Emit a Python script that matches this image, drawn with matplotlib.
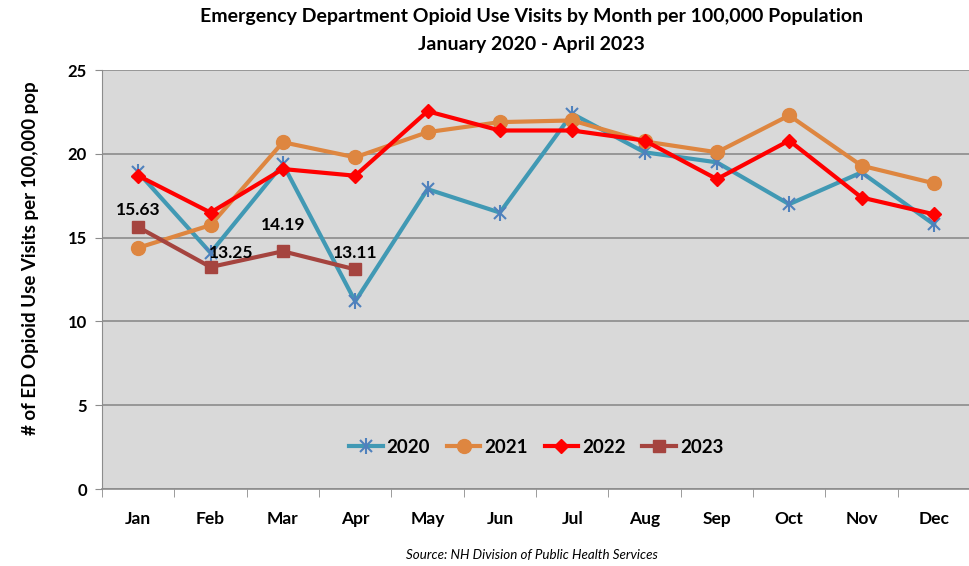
import matplotlib.pyplot as plt
from matplotlib.legend_handler import HandlerTuple
import numpy as np

months = ["Jan", "Feb", "Mar", "Apr", "May", "Jun", "Jul", "Aug", "Sep", "Oct", "Nov", "Dec"]
v2020 = [18.9, 14.1, 19.4, 11.2, 17.9, 16.5, 22.4, 20.1, 19.5, 17.0, 18.9, 15.8]
v2021 = [14.4, 15.75, 20.7, 19.8, 21.3, 21.9, 22.0, 20.75, 20.1, 22.3, 19.3, 18.25]
v2022 = [18.7, 16.5, 19.1, 18.7, 22.55, 21.4, 21.4, 20.8, 18.5, 20.8, 17.4, 16.4]
v2023 = [15.63, 13.25, 14.19, 13.11]

plt.rcParams['font.family'] = ['Lato', 'DejaVu Sans']

fig = plt.figure(figsize=(9.7, 5.66), dpi=100)
ax = fig.add_axes([0.1052, 0.136, 0.8948, 0.740])
ax.set_facecolor("#d9d9d9")

x = np.arange(len(months))

# 2020: teal line with blue asterisk markers
l20, = ax.plot(x, v2020, color="#4199b4", lw=3, marker="x", ms=9, mec="#4f81bd", mew=1.5, zorder=3)
m20, = ax.plot(x, v2020, ls="none", marker="|", ms=12, mec="#4f81bd", mew=1.5, zorder=3)
l21, = ax.plot(x, v2021, color="#de8640", lw=3, marker="o", ms=10, zorder=4)
l22, = ax.plot(x, v2022, color="#ff0000", lw=3, marker="D", ms=7, zorder=5)
l23, = ax.plot(x[:len(v2023)], v2023, color="#a5443f", lw=3, marker="s", ms=9, zorder=6)

# data labels for 2023
offsets = [(0, 12.5), (15, 10), (0, 19), (0, 12)]
for i, v in enumerate(v2023):
    ax.annotate(f"{v:.2f}", (x[i], v), xytext=offsets[i], textcoords="offset points",
                ha="center", va="center", fontsize=12.5, fontweight="bold", zorder=7)

ax.set_xlim(-0.5, 11.5)
ax.set_ylim(0, 25)
ax.set_yticks([0, 5, 10, 15, 20, 25])
ax.yaxis.grid(True, color="#8c8c8c", lw=1.2)
ax.set_axisbelow(True)

ax.set_xticks(x)
ax.set_xticklabels(months, fontsize=12.5, fontweight="bold")
ax.set_xticks(np.arange(-0.5, 12, 1), minor=True)
ax.tick_params(axis="x", which="major", length=0, pad=16)
ax.tick_params(axis="x", which="minor", length=6, color="#8c8c8c", direction="out")
ax.tick_params(axis="y", length=5, color="#8c8c8c", labelsize=12, pad=6)
for lab in ax.get_yticklabels():
    lab.set_fontweight("bold")

for s in ["top", "right"]:
    ax.spines[s].set_visible(False)
ax.spines["left"].set_color("#8c8c8c")
ax.spines["bottom"].set_color("#8c8c8c")
ax.spines["bottom"].set_linewidth(1.2)

ax.set_ylabel("# of ED Opioid Use Visits per 100,000 pop", fontsize=13.5, fontweight="bold")
ax.yaxis.set_label_coords(-0.073, 0.55)

ax.legend([(l20, m20), l21, l22, l23], ["2020", "2021", "2022", "2023"],
          handler_map={tuple: HandlerTuple(ndivide=1)},
          loc="center", bbox_to_anchor=(0.5, 0.1), ncol=4, frameon=False,
          prop={"weight": "bold", "size": 13.5}, handlelength=1.8, columnspacing=0.9, handletextpad=0.2)

fig.text(0.548, 0.971, "Emergency Department Opioid Use Visits by Month per 100,000 Population",
         ha="center", va="center", fontsize=14, fontweight="bold")
fig.text(0.548, 0.922, "January 2020 - April 2023", ha="center", va="center", fontsize=14, fontweight="bold")
fig.text(0.548, 0.019, "Source: NH Division of Public Health Services", ha="center", va="center",
         fontsize=9.6, style="italic")

fig.savefig("out.png", dpi=100)
